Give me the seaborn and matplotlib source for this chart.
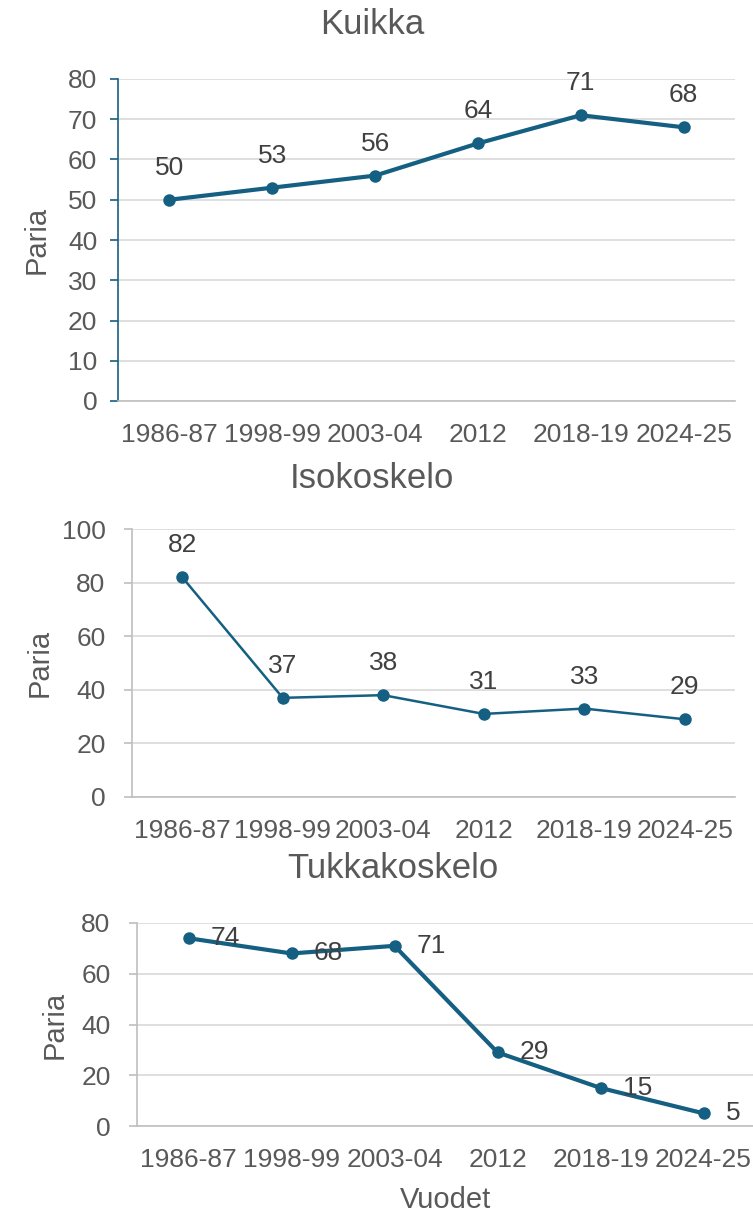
import numpy as np
import matplotlib.pyplot as plt
import seaborn as sns

periods = ["1986-87", "1998-99", "2003-04", "2012", "2018-19", "2024-25"]
kuikka = [50, 53, 56, 64, 71, 68]
isokoskelo = [82, 37, 38, 31, 33, 29]
tukkakoskelo = [74, 68, 71, 29, 15, 5]

LINE = "#156082"
TEXT = "#595959"
LABEL = "#404040"
GRID = "#d9d9d9"
AXIS = "#bfbfbf"

W, H = 753, 1218


def px_rect(left, top, right, bottom):
    return [left / W, 1 - bottom / H, (right - left) / W, (bottom - top) / H]


def species_panel(ax, values, ymax, step, lw, labels_right, yspine, ypad, ylab_x):
    sns.lineplot(x=periods, y=values, sort=False, color=LINE, linewidth=lw,
                 marker="o", markersize=9, markeredgewidth=0, ax=ax)
    ax.set_ylim(0, ymax)
    ax.set_xlim(-0.5, len(periods) - 0.5)
    ax.set_yticks(np.arange(0, ymax + 1, step))
    ax.set_xticks(range(len(periods)))
    ax.set_xticklabels(periods)
    ax.set_xticks(np.arange(-0.5, len(periods), 1), minor=True)
    ax.tick_params(axis="x", which="major", length=0, pad=16, labelsize=19, labelcolor=TEXT)
    ax.tick_params(axis="x", which="minor", length=6, width=1.2, color=AXIS, direction="out")
    ax.tick_params(axis="y", length=6, width=1.2, color=yspine, pad=ypad,
                   labelsize=19, labelcolor=TEXT, direction="out", left=True)
    ax.grid(axis="y", color=GRID, linewidth=1.2)
    ax.set_axisbelow(True)
    for s in ["top", "right"]:
        ax.spines[s].set_visible(False)
    ax.spines["left"].set_color(yspine)
    ax.spines["left"].set_linewidth(1.2)
    ax.spines["bottom"].set_color(AXIS)
    ax.spines["bottom"].set_linewidth(1.2)
    ax.set_ylabel("Paria", fontsize=21, color=TEXT)
    ax.yaxis.set_label_coords(ylab_x, 0.5)
    ax.set_xlabel("")
    for i, v in enumerate(values):
        if labels_right:
            ax.annotate(str(v), (i, v), xytext=(16, 0), textcoords="offset points",
                        ha="left", va="center", fontsize=19, color=LABEL)
        else:
            ax.annotate(str(v), (i, v), xytext=(0, 23), textcoords="offset points",
                        ha="center", va="center", fontsize=19, color=LABEL)


sns.set_theme(style="white")
plt.rcParams["font.family"] = ["Liberation Sans", "DejaVu Sans"]

fig = plt.figure(figsize=(W / 100, H / 100), dpi=100)

ax1 = fig.add_axes(px_rect(118, 79, 735, 401))
species_panel(ax1, kuikka, 80, 10, 3, False, LINE, 9, -0.11)
ax2 = fig.add_axes(px_rect(132, 529, 735, 797))
species_panel(ax2, isokoskelo, 100, 20, 1.8, False, AXIS, 13, -0.13)
ax3 = fig.add_axes(px_rect(137, 923, 755, 1126))
species_panel(ax3, tukkakoskelo, 80, 20, 3, True, AXIS, 13, -0.11)
ax3.set_xlabel("Vuodet", fontsize=21, color=TEXT, labelpad=10)

fig.text(372 / W, 1 - 25 / H, "Kuikka", ha="center", va="center", fontsize=25, color=TEXT)
fig.text(372 / W, 1 - 478 / H, "Isokoskelo", ha="center", va="center", fontsize=25, color=TEXT)
fig.text(393 / W, 1 - 868 / H, "Tukkakoskelo", ha="center", va="center", fontsize=25, color=TEXT)

fig.savefig("out.png", dpi=100)
